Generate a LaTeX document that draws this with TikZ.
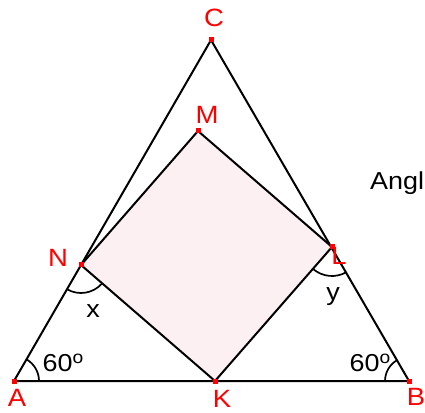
\documentclass[tikz,border=0pt]{standalone}
\usepackage{fontspec}
\setmainfont{Liberation Sans}[FakeStretch=1.1]
\definecolor{sqfill}{RGB}{252,240,243}
\newcommand{\degsup}{\raisebox{8.5pt}{\fontsize{17.5}{17.5}\selectfont o}}
\begin{document}
\begin{tikzpicture}[x=1pt,y=1pt,
  edge/.style={line width=2pt, line join=round},
  pt/.style={rectangle, fill=red, minimum size=5pt, inner sep=0pt, outer sep=0pt},
  lbl/.style={text=red, font=\fontsize{25}{25}\selectfont, inner sep=0pt},
  txt/.style={font=\fontsize{24.5}{24.5}\selectfont, inner sep=0pt},
  anglearc/.style={line width=1.7pt}]
\useasboundingbox (0,0) rectangle (425,412);
\coordinate (A) at (14,31);
\coordinate (B) at (409,31);
\coordinate (C) at (211,372);
\coordinate (K) at (215,31);
\coordinate (N) at (81,147);
\coordinate (M) at (198,281);
\coordinate (L) at (332,165);
% square fill
\fill[sqfill] (K) -- (L) -- (M) -- (N) -- cycle;
% triangle and square
\draw[edge] (A) -- (B) -- (C) -- cycle;
\draw[edge] (K) -- (L) -- (M) -- (N) -- cycle;
% angle arcs
\draw[anglearc] ([shift={(0:25)}]A) arc (0:60:25);
\draw[anglearc] ([shift={(120:24)}]B) arc (120:180:24);
\draw[anglearc] ([shift={(240:28)}]N) arc (240:319:28);
\draw[anglearc] ([shift={(229:29)}]L) arc (229:300:29);
% points
\node[pt] (pA) at (A) {};
\node[pt] (pB) at (B) {};
\node[pt] (pC) at (C) {};
\node[pt] (pK) at (K) {};
\node[pt] (pN) at (N) {};
\node[pt] (pM) at (M) {};
\node[pt] (pL) at (L) {};
% labels
\node[lbl] (tA) at (17,14) {A};
\node[lbl] (tB) at (416,15) {B};
\node[lbl] (tC) at (214,394) {C};
\node[lbl] (tK) at (222,13) {K};
\node[lbl] (tN) at (58,154) {N};
\node[lbl] (tM) at (207,297) {M};
\node[lbl] (tL) at (339,156) {L};
\node[txt] (ax) at (93,101) {x};
\node[txt] (ay) at (333,115) {y};
\node[txt] (a60A) at (63,49) {60\degsup};
\node[txt] (a60B) at (370,49) {60\degsup};
\node[txt, anchor=west] (angl) at (370,229) {Angl};
\end{tikzpicture}
\end{document}
